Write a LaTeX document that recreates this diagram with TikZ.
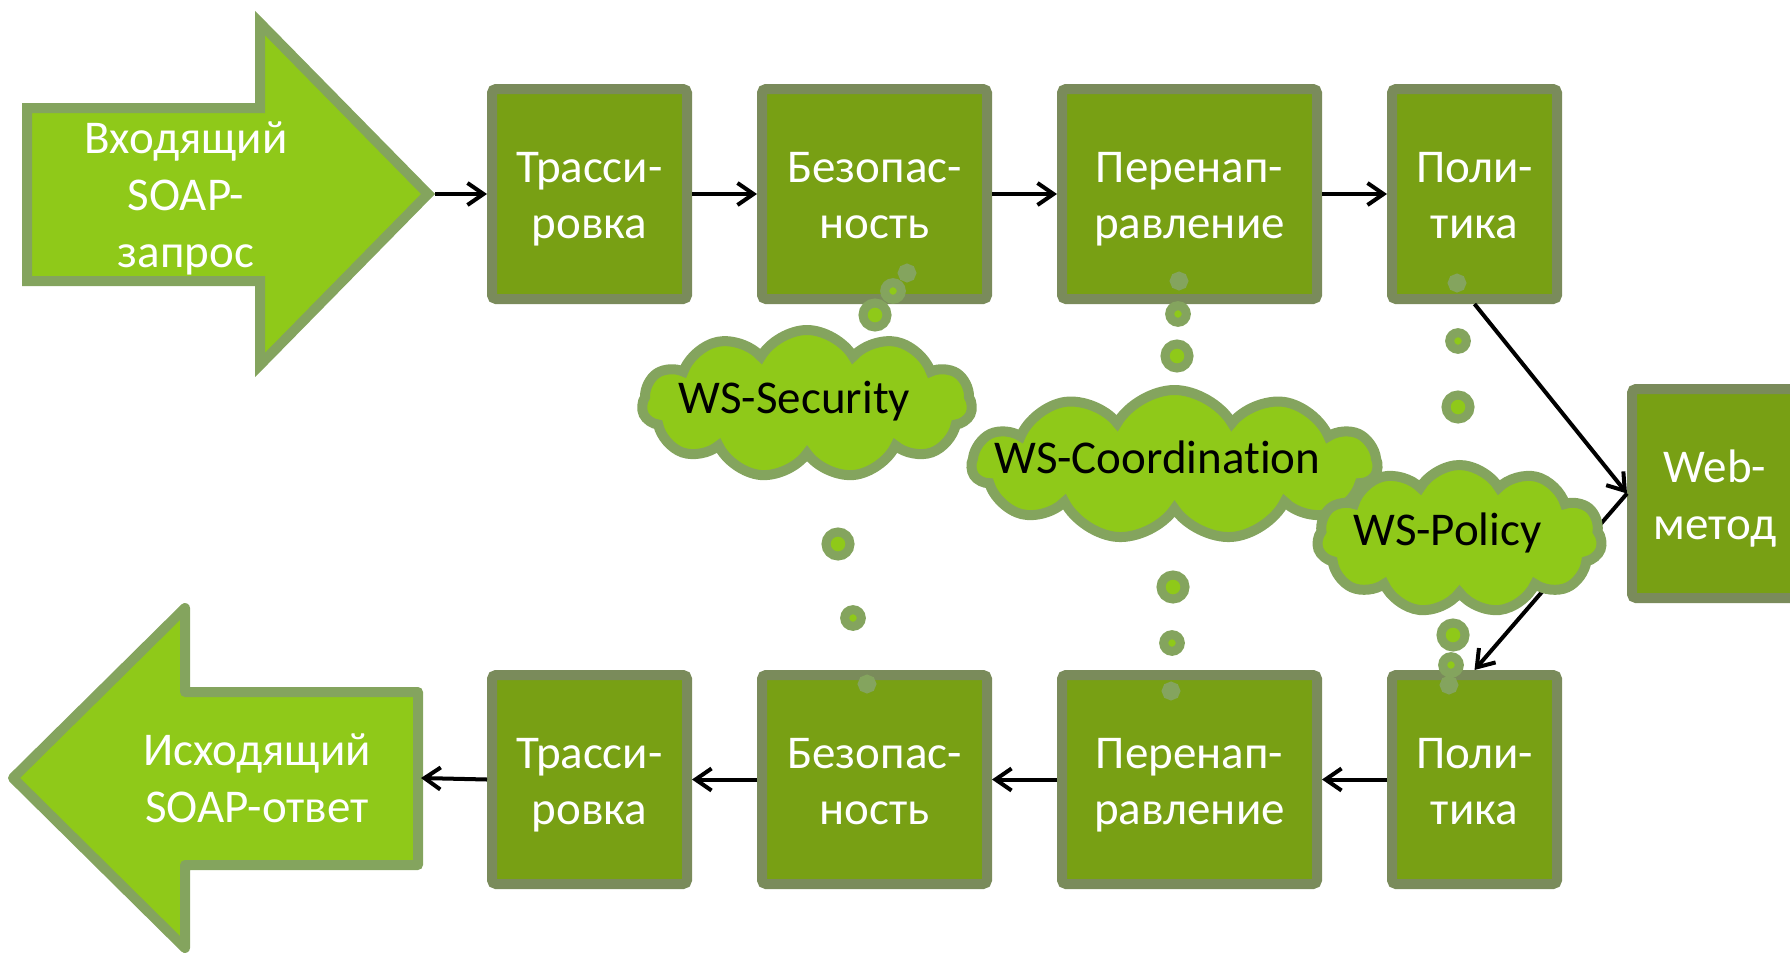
\documentclass[tikz,border=0pt]{standalone}
\usepackage{fontspec}
\setmainfont{Carlito}[Ligatures=NoCommon]
\usetikzlibrary{shapes.symbols,arrows.meta}
\definecolor{brightg}{RGB}{143,201,25}
\definecolor{outl}{RGB}{132,164,94}
\definecolor{boxf}{RGB}{120,160,20}
\definecolor{boxb}{RGB}{122,139,91}
\newcommand{\topstrut}{\rule{0pt}{45pt}}
\newcommand{\botstrut}{\rule[-12pt]{0pt}{12pt}}
\begin{document}
\begin{tikzpicture}[x=1pt,y=-1pt,
  stagebox/.style={draw=boxb, fill=boxf, line width=10pt, rounded corners=4pt, inner sep=0pt},
  boxtext/.style={text=white, font=\fontsize{47}{56}\selectfont, align=center, inner sep=0pt},
  arrtext/.style={text=white, font=\fontsize{47}{57}\selectfont, align=center, inner sep=0pt},
  cloudtext/.style={text=black, font=\fontsize{47}{57}\selectfont, inner sep=0pt},
  bubble/.style={cloud, cloud puffs=11, cloud puff arc=120, cloud ignores aspect, draw=outl, fill=brightg, line width=10pt, inner sep=0pt},
  dotc/.style={draw=outl, fill=brightg, line width=9pt},
  conn/.style={-{Straight Barb[length=16pt,width=22pt]}, line width=4pt, black},
  bigarrow/.style={draw=outl, fill=brightg, line width=10pt}
]
\path[use as bounding box] (0,0) rectangle (1790,953);
\clip (0,0) rectangle (1790,953);

% stage boxes
\node[stagebox, minimum width=195pt, minimum height=210pt] (t1) at (589.5,194) {};
\node[stagebox, minimum width=225pt, minimum height=210pt] (t2) at (874.5,194) {};
\node[stagebox, minimum width=255pt, minimum height=210pt] (t3) at (1189.5,194) {};
\node[stagebox, minimum width=165pt, minimum height=210pt] (t4) at (1474.5,194) {};
\node[stagebox, minimum width=195pt, minimum height=209pt] (b1) at (589.5,779.5) {};
\node[stagebox, minimum width=225pt, minimum height=209pt] (b2) at (874.5,779.5) {};
\node[stagebox, minimum width=255pt, minimum height=209pt] (b3) at (1189.5,779.5) {};
\node[stagebox, minimum width=165pt, minimum height=209pt] (b4) at (1474.5,779.5) {};
\node[stagebox, minimum width=166pt, minimum height=209pt] (web) at (1715,493.5) {};

\node[boxtext] (t1l) at (t1) {\topstrut Трасси-\\ровка\botstrut};
\node[boxtext] (t2l) at (t2) {\topstrut Безопас-\\ность\botstrut};
\node[boxtext] (t3l) at (t3) {\topstrut Перенап-\\равление\botstrut};
\node[boxtext] (t4l) at (t4) {\topstrut Поли-\\тика\botstrut};
\node[boxtext] (b1l) at (b1) {\topstrut Трасси-\\ровка\botstrut};
\node[boxtext] (b2l) at (b2) {\topstrut Безопас-\\ность\botstrut};
\node[boxtext] (b3l) at (b3) {\topstrut Перенап-\\равление\botstrut};
\node[boxtext] (b4l) at (b4) {\topstrut Поли-\\тика\botstrut};
\node[arrtext] (webl) at ([yshift=-1pt]web.center) {\topstrut Web-\\метод\botstrut};

% big arrows
\draw[bigarrow, line join=miter] (27,108) -- (260,108) -- (260,23) -- (428,194) -- (260,365) -- (260,281) -- (27,281) -- cycle;
\coordinate (intip) at (435,194);
\node[arrtext] (inl) at (186,193.5) {\topstrut Входящий\\SOAP-\\запрос\botstrut};
\draw[bigarrow, line join=round] (13,778) -- (185,608) -- (185,692) -- (418,692) -- (418,865) -- (185,865) -- (185,948) -- cycle;
\coordinate (outtip) at (421,778);
\node[arrtext] (outl) at (257,777.5) {\topstrut Исходящий\\SOAP-ответ\botstrut};

% connectors
\draw[conn] (intip) -- (t1.west);
\draw[conn] (t1.east) -- (t2.west);
\draw[conn] (t2.east) -- (t3.west);
\draw[conn] (t3.east) -- (t4.west);
\draw[conn] (t4.south) -- (web.west);
\draw[conn] (web.west) -- (b4.north);
\draw[conn] (b4.west) -- (b3.east);
\draw[conn] (b3.west) -- (b2.east);
\draw[conn] (b2.west) -- (b1.east);
\draw[conn] (b1.west) -- (outtip);

% clouds
\node[bubble, minimum width=330pt, minimum height=148pt] (cs) at (807,404) {};
\node[bubble, minimum width=405pt, minimum height=150pt] (cc) at (1174.5,465) {};
\node[bubble, minimum width=285pt, minimum height=148pt] (cp) at (1459.5,539) {};

% thought dots
\draw[dotc] (875,315) circle[radius=12];
\draw[dotc] (893,291) circle[radius=8.3];
\draw[dotc] (907,273) circle[radius=4.7];
\draw[dotc] (838,544) circle[radius=12];
\draw[dotc] (853,618) circle[radius=8.3];
\draw[dotc] (867,684) circle[radius=4.7];
\draw[dotc] (1177,356) circle[radius=12];
\draw[dotc] (1178,314) circle[radius=8.3];
\draw[dotc] (1179,281) circle[radius=4.7];
\draw[dotc] (1173,587) circle[radius=12];
\draw[dotc] (1172,643) circle[radius=8.3];
\draw[dotc] (1171,691) circle[radius=4.7];
\draw[dotc] (1458,407) circle[radius=12];
\draw[dotc] (1458,341) circle[radius=8.3];
\draw[dotc] (1457,283) circle[radius=4.7];
\draw[dotc] (1453,635) circle[radius=12];
\draw[dotc] (1451,665) circle[radius=8.3];
\draw[dotc] (1449,685) circle[radius=4.7];

% cloud labels
\node[cloudtext, anchor=base] (csl) at (794.5,413) {WS-Security};
\node[cloudtext, anchor=base] (ccl) at (1157.5,473) {WS-Coordination};
\node[cloudtext, anchor=base] (cpl) at (1447.5,545) {WS-Policy};
\end{tikzpicture}
\end{document}
